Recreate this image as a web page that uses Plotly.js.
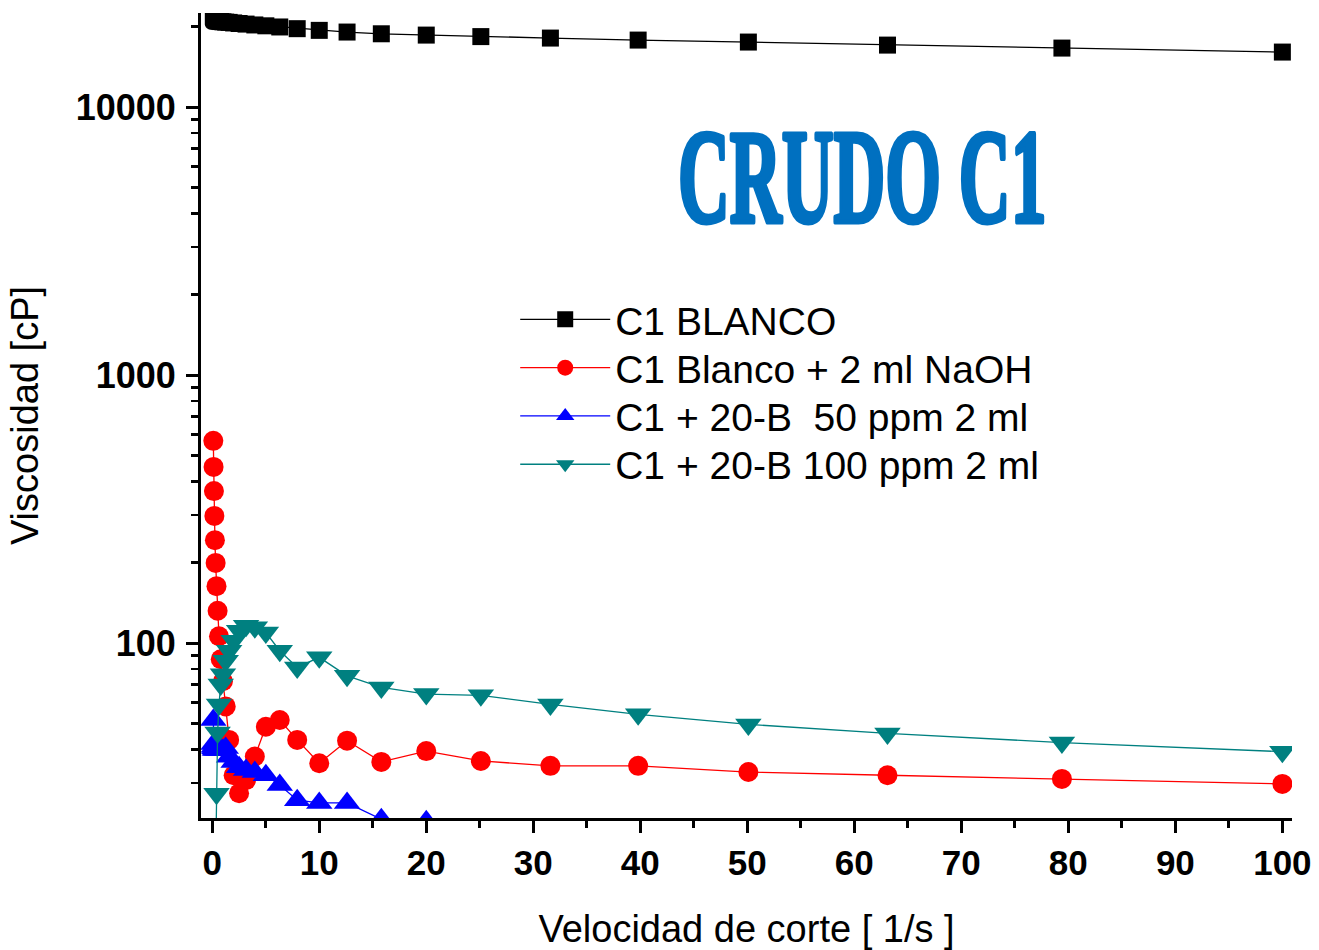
<!DOCTYPE html>
<html>
<head>
<meta charset="utf-8">
<script src="https://cdn.plot.ly/plotly-3.0.1.min.js"></script>
<style>html,body{margin:0;padding:0;background:#fff;}</style>
</head>
<body>
<div id="chart" style="width:1319px;height:950px;"></div>
<script>
// Shear rate [1/s]
const shearRate = [0.1, 0.126, 0.158, 0.2, 0.251, 0.316, 0.398, 0.501, 0.631, 0.794,
  1, 1.26, 1.58, 2, 2.51, 3.16, 3.98, 5.01, 6.31, 7.94,
  10, 12.6, 15.8, 20, 25.1, 31.6, 39.8, 50.1, 63.1, 79.4, 100];

// Viscosity [cP]
const blanco = [21800, 21600, 21450, 21300, 21200, 21100, 21000, 20950, 20900, 20850,
  20800, 20750, 20700, 20600, 20500, 20400, 20250, 20100, 19900, 19610,
  19330, 19050, 18770, 18560, 18320, 18090, 17780, 17480, 17030, 16600, 16040];

const blancoNaOH = [568, 454, 369, 298, 242, 199, 163, 132, 106, 87,
  72, 58, 43.5, 32.1, 27.5, 30.8, 37.7, 48.7, 51.6, 43.5,
  35.6, 43.2, 36, 39.5, 36.3, 34.8, 34.8, 33, 32.1, 31.1, 29.8];

const rate50 = [0.1, 0.126, 0.158, 0.2, 0.251, 0.316, 0.398, 0.501, 0.631, 0.794,
  1, 1.26, 1.58, 2, 2.51, 3.16, 3.98, 5.01, 6.31, 7.94, 10, 12.6, 15.8, 20];
const ppm50 = [51.6, 42, 41, 40.5, 40, 40, 40, 40, 40, 40,
  40, 40.6, 37.6, 36, 34.4, 33.6, 33, 32.1, 29.5, 25.9, 25.3, 25.3, 22, 21.6];

const rate100 = [0.316, 0.398, 0.501, 0.631, 0.794, 1, 1.26, 1.58, 2, 2.51, 3.16, 3.98,
  5.01, 6.31, 7.94, 10, 12.6, 15.8, 20, 25.1, 31.6, 39.8, 50.1, 63.1, 79.4, 100];
const ppm100 = [15, 27.4, 46.4, 59, 70, 76.4, 85.8, 93.6, 101.9, 111, 116, 114.5,
  109.4, 93.6, 81.1, 88.4, 75.4, 68.3, 64.5, 63.8, 59, 54.2, 49.7, 46, 42.5, 39.3];

const seriesNames = ["C1 BLANCO", "C1 Blanco + 2 ml NaOH", "C1 + 20-B  50 ppm 2 ml", "C1 + 20-B 100 ppm 2 ml"];
const xTitle = "Velocidad de corte [ 1/s ]";
const yTitle = "Viscosidad [cP]";
const chartLabel = "CRUDO C1";

const F = "Liberation Sans, Arial, Helvetica, sans-serif";

const traces = [
  {x: shearRate, y: blanco, name: seriesNames[0], mode: "lines+markers",
   line: {color: "#000000", width: 1.3}, marker: {symbol: "square", size: 17, color: "#000000"}},
  {x: shearRate, y: blancoNaOH, name: seriesNames[1], mode: "lines+markers",
   line: {color: "#FF0000", width: 1.3}, marker: {symbol: "circle", size: 20, color: "#FF0000"}},
  {x: rate50, y: ppm50, name: seriesNames[2], mode: "lines+markers",
   line: {color: "#0000FF", width: 1.3}, marker: {symbol: "triangle-up", size: 23, color: "#0000FF"}},
  {x: rate100, y: ppm100, name: seriesNames[3], mode: "lines+markers",
   line: {color: "#008080", width: 1.3}, marker: {symbol: "triangle-down", size: 23, color: "#008080"}}
];

const layout = {
  width: 1319, height: 950,
  margin: {l: 201, r: 27, t: 13, b: 132},
  paper_bgcolor: "#ffffff", plot_bgcolor: "#ffffff",
  showlegend: true,
  legend: {
    x: 0.288, y: 0.659, xanchor: "left", yanchor: "top",
    font: {family: F, size: 39, color: "#000"},
    bgcolor: "rgba(0,0,0,0)", itemwidth: 90, tracegroupgap: 0
  },
  xaxis: {
    range: [-1.05, 100.9], tick0: 0, dtick: 10,
    ticks: "outside", ticklen: 12, tickwidth: 3, tickcolor: "#000",
    showline: true, linewidth: 3, linecolor: "#000", mirror: false,
    showgrid: false, zeroline: false,
    ticklabelstandoff: 0,
    tickfont: {family: F, size: 35, color: "#000", weight: "bold"},
    minor: {dtick: 5, tick0: 0, ticks: "outside", ticklen: 7, tickwidth: 3, tickcolor: "#000", showgrid: false},
    title: {text: xTitle, font: {family: F, size: 38, color: "#000"}, standoff: 36}
  },
  yaxis: {
    type: "log", range: [1.347, 4.351], dtick: 1, tickformat: "d",
    ticks: "outside", ticklen: 12, tickwidth: 3, tickcolor: "#000",
    showline: true, linewidth: 3, linecolor: "#000", mirror: false,
    showgrid: false, zeroline: false,
    ticklabelstandoff: 3,
    tickfont: {family: F, size: 36, color: "#000", weight: "bold"},
    minor: {dtick: "D1", ticks: "outside", ticklen: 7, tickwidth: 2.5, tickcolor: "#000", showgrid: false},
    title: {text: yTitle, font: {family: F, size: 38, color: "#000"}, standoff: 26}
  },
  annotations: [{
    text: "<b>" + chartLabel + "</b>", x: 60.8, y: 3.739, xref: "x", yref: "y",
    showarrow: false, xanchor: "center", yanchor: "middle",
    font: {family: "Liberation Serif, Times New Roman, serif", size: 134, color: "#0070C0"}
  }]
};

Plotly.newPlot("chart", traces, layout, {staticPlot: true}).then(function () {
  const t = document.querySelector(".annotation-text");
  if (t) {
    const b = t.getBBox();
    const s = 0.535;
    const cx = b.x + b.width / 2;
    t.setAttribute("transform", "matrix(" + s + ",0,0,1," + (cx * (1 - s)) + ",0)");
    t.style.stroke = "#0070C0";
    t.style.strokeWidth = "5px";
    t.style.strokeLinejoin = "round";
  }
  // tighten legend row spacing to match the original (about 48 px per row)
  const items = Array.from(document.querySelectorAll(".legend .traces"));
  const parse = function (el) {
    const m = /translate\(\s*([-\d.]+)[ ,]+([-\d.]+)\s*\)/.exec(el.getAttribute("transform") || "");
    return m ? [parseFloat(m[1]), parseFloat(m[2])] : [0, 0];
  };
  if (items.length) {
    const p0 = parse(items[0]);
    items.forEach(function (el, i) {
      const p = parse(el);
      el.setAttribute("transform", "translate(" + p[0] + "," + (p0[1] + i * 48.3) + ")");
    });
  }
});
</script>
</body>
</html>
